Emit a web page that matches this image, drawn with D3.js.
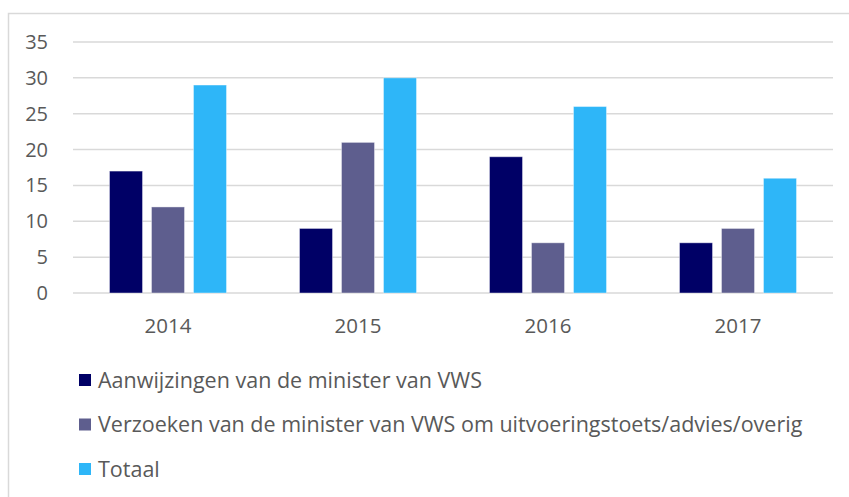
<!DOCTYPE html>
<html>
<head>
<meta charset="utf-8">
<script src="https://cdn.jsdelivr.net/npm/d3@7"></script>
<style>
  body { margin: 0; background: #fff; }
  text { font-family: "Open Sans", sans-serif; fill: #595959; }
</style>
</head>
<body>
<div id="chart"></div>
<script>
var years = ["2014", "2015", "2016", "2017"];
var seriesNames = ["Aanwijzingen van de minister van VWS",
                   "Verzoeken van de minister van VWS om uitvoeringstoets/advies/overig",
                   "Totaal"];
var aanwijzingen = [17, 9, 19, 7];
var verzoeken = [12, 21, 7, 9];
var totaal = [29, 30, 26, 16];
var yTicks = [0, 5, 10, 15, 20, 25, 30, 35];
var colors = ["#000066", "#5e5e8e", "#2eb6f8"];

var W = 849, H = 497;
var margin = {top: 42, left: 73, right: 16, bottom: 204};
var width = W - margin.left - margin.right,
    height = H - margin.top - margin.bottom;

var svg = d3.select("#chart").append("svg")
    .attr("width", W)
    .attr("height", H);

// outer frame
svg.append("path")
    .attr("d", "M8.5," + H + "V13.5H" + W)
    .attr("fill", "none")
    .attr("stroke", "#d9d9d9")
    .attr("stroke-width", 1.5);

var g = svg.append("g")
    .attr("transform", "translate(" + margin.left + "," + margin.top + ")");

var x = d3.scaleBand().domain(years).range([0, width]);
var y = d3.scaleLinear().domain([0, 35]).range([height, 0]);

g.selectAll("line.grid")
    .data(yTicks)
    .enter().append("line")
      .attr("class", "grid")
      .attr("x1", 0).attr("x2", width)
      .attr("y1", function(d) { return y(d); })
      .attr("y2", function(d) { return y(d); })
      .attr("stroke", "#d9d9d9")
      .attr("stroke-width", 1.5);

g.selectAll("text.ytick")
    .data(yTicks)
    .enter().append("text")
      .attr("class", "ytick")
      .attr("x", -25)
      .attr("y", function(d) { return y(d); })
      .attr("dy", "0.35em")
      .attr("text-anchor", "end")
      .style("font-size", "20px")
      .text(function(d) { return d; });

var series = [aanwijzingen, verzoeken, totaal];
var x1 = d3.scaleBand().domain([0, 1, 2]).range([0, 117]).paddingInner(0.214);

var groups = g.selectAll("g.year")
    .data(years)
    .enter().append("g")
      .attr("class", "year")
      .attr("transform", function(d) { return "translate(" + (x(d) + x.bandwidth() / 2 - 58.5) + ",0)"; });

groups.selectAll("rect")
    .data(function(d, i) { return series.map(function(s, k) { return {k: k, v: s[i]}; }); })
    .enter().append("rect")
      .attr("x", function(d) { return x1(d.k); })
      .attr("width", x1.bandwidth())
      .attr("y", function(d) { return y(d.v); })
      .attr("height", function(d) { return height - y(d.v); })
      .attr("fill", function(d) { return colors[d.k]; })
      .attr("stroke", "#ffffff")
      .attr("stroke-opacity", 0.4)
      .attr("stroke-width", 1);

g.selectAll("text.xtick")
    .data(years)
    .enter().append("text")
      .attr("class", "xtick")
      .attr("x", function(d) { return x(d) + x.bandwidth() / 2; })
      .attr("y", height + 33)
      .attr("dy", "0.35em")
      .attr("text-anchor", "middle")
      .style("font-size", "20.5px")
      .text(function(d) { return d; });

var legend = svg.selectAll("g.legend")
    .data(seriesNames)
    .enter().append("g")
      .attr("class", "legend")
      .attr("transform", function(d, i) { return "translate(79," + (380 + i * 44.5) + ")"; });

legend.append("rect")
    .attr("x", 0).attr("y", -6)
    .attr("width", 12).attr("height", 12)
    .attr("fill", function(d, i) { return colors[i]; });

legend.append("text")
    .attr("x", 19)
    .attr("dy", "0.35em")
    .style("font-size", "21.5px")
    .text(function(d) { return d; });
</script>
</body>
</html>
